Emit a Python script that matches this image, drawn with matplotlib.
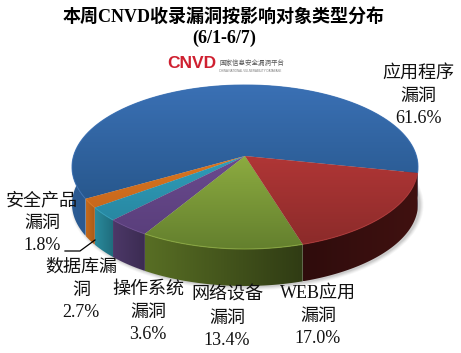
import matplotlib
matplotlib.use('Agg')
import matplotlib.pyplot as plt
import numpy as np
from matplotlib.patches import Ellipse, Polygon
from matplotlib.colors import LinearSegmentedColormap

plt.rcParams['font.family'] = ['Liberation Serif', 'Noto Sans CJK SC']

# dados, na ordem em que as fatias aparecem
categories = [['应用程序', '漏洞'], ['安全产品', '漏洞'], ['数据库漏', '洞'],
              ['操作系统', '漏洞'], ['网络设备', '漏洞'], ['WEB应用', '漏洞']]
values = [61.6, 1.8, 2.7, 3.6, 13.4, 17.0]
title_lines = ['本周CNVD收录漏洞按影响对象类型分布', '(6/1-6/7)']

top_light = ['#3a70b4', '#d9761f', '#2f9dba', '#6a4a8e', '#8cab40', '#b03636']
top_dark = ['#28588e', '#c8681c', '#2888a2', '#5a3f7c', '#64802e', '#8c2b2a']
side_left = ['#2a5a92', '#c46a1c', '#2a8a9c', '#4c3868', '#586e24', '#2f0c0c']
side_right = ['#1e4675', '#a85a18', '#1f6c7c', '#3c2c52', '#303c14', '#401110']
label_pos = [(418, 78), (42, 205), (81, 272), (148, 294), (227, 300), (318, 298)]

cx, cy, a, b = 245, 167, 173, 82
depth = 37
e = 0.134
start = -11.8


# perspectiva: a parte da frente do disco fica maior
def rim(t):
    s, c = np.sin(t), np.cos(t)
    d = 1 + e * s
    return cx + a * c * np.sqrt(1 - e**2) / d, cy - b * (s + e) / d


def shaded(ax, pts, light, dark, horizontal=False):
    cmap = LinearSegmentedColormap.from_list('s', [light, dark])
    y0, y1 = pts[:, 1].min(), pts[:, 1].max()
    poly = Polygon(pts, closed=True, facecolor='none', edgecolor='none')
    ax.add_patch(poly)
    grad = np.linspace(0, 1, 64).reshape(-1, 1)
    if horizontal:
        grad = grad.T
    im = ax.imshow(grad, cmap=cmap, aspect='auto',
                   extent=(pts[:, 0].min(), pts[:, 0].max(), y1, y0), zorder=poly.get_zorder())
    im.set_clip_path(poly)


fig = plt.figure(figsize=(4.61, 3.53), dpi=100)
ax = fig.add_axes([0, 0, 1, 1])

# sombra
for k, al in zip([7, 5, 3, 1], [0.05, 0.07, 0.09, 0.12]):
    ax.add_patch(Ellipse((cx + 2, cy + depth + 1), 2 * a + k, 2 * b + k,
                         facecolor='#555555', edgecolor='none', alpha=al))

edges = np.radians(start + 360 * np.concatenate([[0], np.cumsum(values)]) / sum(values))

# lados (primeiro) e topo do disco
for i in range(len(values)):
    t = np.linspace(edges[i], edges[i + 1], 200)
    x, y = rim(t)
    band = np.column_stack([np.r_[x, x[::-1]], np.r_[y, y[::-1] + depth]])
    shaded(ax, band, side_left[i], side_right[i], horizontal=True)
for i in range(len(values)):
    t = np.linspace(edges[i], edges[i + 1], 200)
    x, y = rim(t)
    face = np.column_stack([np.r_[cx, x], np.r_[cy - b * e, y]])
    shaded(ax, face, top_light[i], top_dark[i])
    ax.plot(x, y, color=top_light[i], lw=0.8, alpha=0.8, solid_capstyle='butt')

ax.set_xlim(0, 461)
ax.set_ylim(353, 0)
ax.axis('off')

# título
for line, y in zip(title_lines, [22, 43]):
    ax.text(224, y, line, ha='center', va='baseline', fontsize=13, fontweight='bold', color='black')

# logo
ax.text(167, 68, 'CNVD', fontsize=12.5, fontweight='bold', color='#cf2030',
        family=['Liberation Sans'], va='baseline')
ax.text(219, 65, '国家信息安全漏洞平台', fontsize=4.7, color='#555555', va='baseline')
ax.text(219, 72, 'CHINA NATIONAL VULNERABILITY DATABASE', fontsize=2.1, color='#777777',
        family=['Liberation Sans'], va='baseline')

# rótulos
for cat, val, (lx, ly) in zip(categories, values, label_pos):
    lines = cat + [f'{val:.1f}%']
    for j, line in enumerate(lines):
        ax.text(lx, ly + j * 22.5, line, ha='center', va='baseline', fontsize=13, color='#111111')

# linha de chamada do 1,8%
ax.plot([65, 80, 95], [251, 251, 240], color='black', lw=0.9)

fig.savefig('out.png', dpi=100)
